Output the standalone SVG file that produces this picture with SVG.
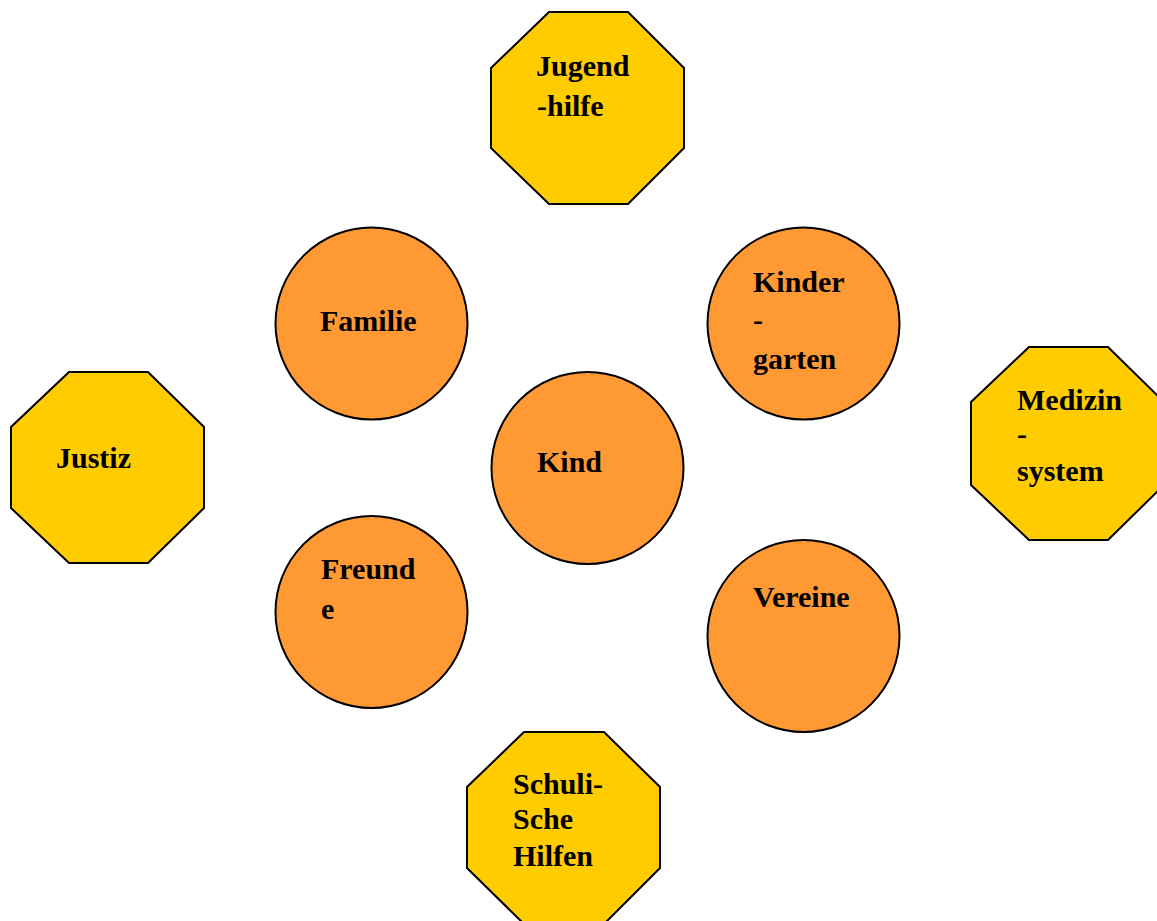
<svg xmlns="http://www.w3.org/2000/svg" width="1157" height="921" viewBox="0 0 1157 921">
<style>
.circ{fill:#FF9933;stroke:#000;stroke-width:2}
.oct{fill:#FFCC00;stroke:#000;stroke-width:2}
text{font-family:"Liberation Serif","Times New Roman",serif;font-weight:bold;font-size:30px;fill:#000}
</style>
<rect width="1157" height="921" fill="#fff"/>
<g id="connectors"></g>
<g id="jugendhilfe">
<polygon class="oct" points="549,12 628,12 684,68 684,148 628,204 549,204 491,148 491,68"/>
<text x="536" y="76">Jugend</text>
<text x="537" y="116">-hilfe</text>
</g>
<g id="justiz">
<polygon class="oct" points="69,372 148,372 204,427 204,508 148,563 69,563 11,508 11,427"/>
<text x="56" y="468">Justiz</text>
</g>
<g id="medizinsystem">
<polygon class="oct" points="1029,347 1108,347 1164,402 1164,485 1108,540 1029,540 971,485 971,402"/>
<text x="1017" y="410">Medizin</text>
<text x="1017" y="444">-</text>
<text x="1017" y="481">system</text>
</g>
<g id="schulische">
<polygon class="oct" points="524,732 604,732 660,787 660,868 604,924 524,924 467,868 467,787"/>
<text x="513" y="794">Schuli-</text>
<text x="513" y="829">Sche</text>
<text x="513" y="866">Hilfen</text>
</g>
<g id="familie">
<circle class="circ" cx="371.5" cy="323.5" r="96"/>
<text x="320" y="331">Familie</text>
</g>
<g id="kindergarten">
<circle class="circ" cx="803.5" cy="323.5" r="96"/>
<text x="753" y="292">Kinder</text>
<text x="753" y="330">-</text>
<text x="753" y="369">garten</text>
</g>
<g id="kind">
<circle class="circ" cx="587.5" cy="468" r="96"/>
<text x="537" y="472">Kind</text>
</g>
<g id="freunde">
<circle class="circ" cx="371.5" cy="612" r="96"/>
<text x="321" y="579">Freund</text>
<text x="321" y="619">e</text>
</g>
<g id="vereine">
<circle class="circ" cx="803.5" cy="636" r="96"/>
<text x="753" y="607">Vereine</text>
</g>
</svg>
